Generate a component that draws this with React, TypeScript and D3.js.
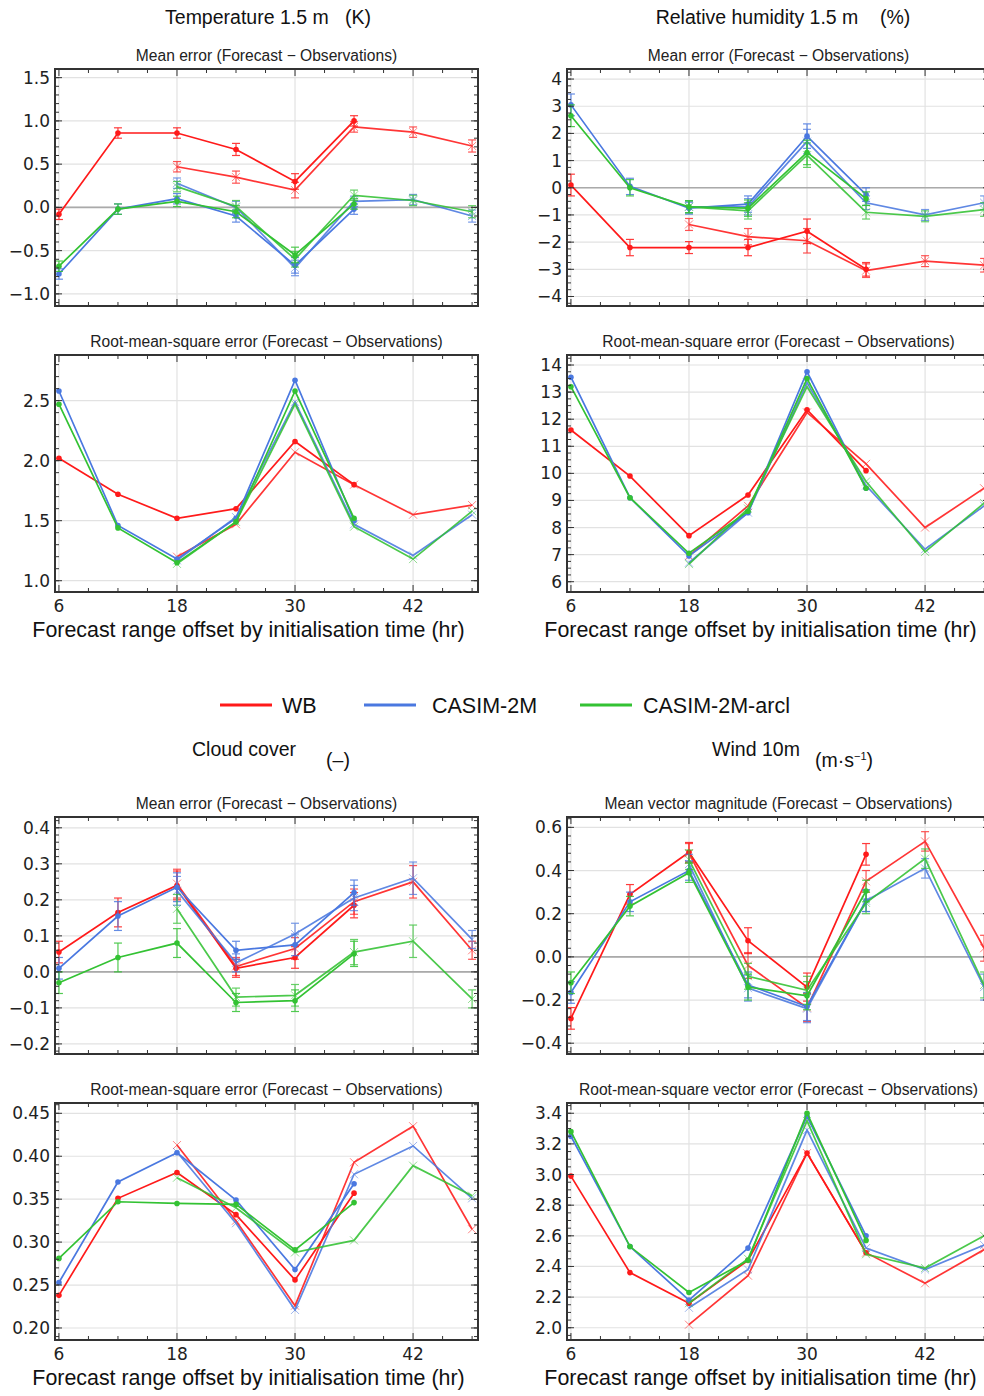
import React from 'react';
import * as d3 from 'd3';

// forecast hours: "dot" runs start at T+6, "cross" runs start at T+18
const hoursDot = [6, 12, 18, 24, 30, 36];
const hoursCross = [18, 24, 30, 36, 42, 48];
const models = ['WB', 'CASIM-2M', 'CASIM-2M-arcl'];
const modelColors = ['#ff1a1a', '#4a78e0', '#33c233'];

// Temperature mean error
const tempMeDot = [[-0.08, 0.86, 0.86, 0.67, 0.30, 1.0], [-0.77, -0.02, 0.10, -0.10, -0.67, -0.02], [-0.68, -0.02, 0.07, -0.05, -0.55, 0.04]];
const tempMeCross = [[0.47, 0.35, 0.20, 0.93, 0.87, 0.71], [0.28, 0.0, -0.70, 0.07, 0.09, -0.10], [0.24, 0.01, -0.60, 0.14, 0.08, -0.05]];
const tempMeErr = [0.06, 0.06, 0.06, 0.07, 0.09, 0.06, 0.06, 0.07];
const tempRmseDot = [[2.02, 1.72, 1.52, 1.60, 2.16, 1.80], [2.58, 1.46, 1.18, 1.52, 2.67, 1.50], [2.47, 1.44, 1.15, 1.49, 2.58, 1.52]];
const tempRmseCross = [[1.20, 1.47, 2.07, 1.80, 1.55, 1.63], [1.17, 1.53, 2.49, 1.47, 1.21, 1.55], [1.14, 1.49, 2.47, 1.45, 1.18, 1.58]];

// Relative humidity
const rhMeDot = [[0.1, -2.2, -2.2, -2.2, -1.6, -3.0], [3.05, 0.05, -0.75, -0.6, 1.9, -0.25], [2.65, 0.0, -0.7, -0.75, 1.3, -0.4]];
const rhMeCross = [[-1.35, -1.8, -1.95, -3.05, -2.7, -2.85], [-0.7, -0.7, 1.7, -0.55, -1.0, -0.55], [-0.7, -0.85, 1.2, -0.9, -1.05, -0.8]];
const rhMeErr = [0.4, 0.3, 0.22, 0.3, 0.45, 0.25, 0.2, 0.25];
const rhRmseDot = [[11.6, 9.9, 7.7, 9.2, 12.35, 10.1], [13.55, 9.1, 6.95, 8.55, 13.75, 9.45], [13.2, 9.1, 7.05, 8.6, 13.5, 9.45]];
const rhRmseCross = [[6.95, 8.8, 12.25, 10.35, 8.0, 9.45], [6.7, 8.55, 13.35, 9.55, 7.2, 8.8], [6.65, 8.7, 13.2, 9.7, 7.1, 8.9]];

// Cloud cover
const ccMeDot = [[0.055, 0.165, 0.24, 0.01, 0.04, 0.185], [0.01, 0.155, 0.235, 0.06, 0.075, 0.22], [-0.03, 0.04, 0.08, -0.085, -0.08, 0.05]];
const ccMeCross = [[0.245, 0.015, 0.065, 0.195, 0.25, 0.06], [0.225, 0.025, 0.105, 0.205, 0.26, 0.09], [0.175, -0.07, -0.065, 0.055, 0.085, -0.075]];
const ccMeErr = [0.03, 0.04, 0.04, 0.025, 0.03, 0.035, 0.045, 0.025];
const ccRmseDot = [[0.238, 0.351, 0.381, 0.332, 0.256, 0.357], [0.253, 0.370, 0.404, 0.349, 0.268, 0.368], [0.281, 0.347, 0.345, 0.344, 0.291, 0.346]];
const ccRmseCross = [[0.413, 0.325, 0.226, 0.393, 0.435, 0.315], [0.405, 0.322, 0.221, 0.379, 0.412, 0.351], [0.375, 0.340, 0.288, 0.302, 0.389, 0.354]];

// Wind 10m
const wMeDot = [[-0.285, 0.29, 0.485, 0.075, -0.14, 0.475], [-0.165, 0.255, 0.40, -0.13, -0.23, 0.26], [-0.12, 0.235, 0.39, -0.14, -0.18, 0.305]];
const wMeCross = [[0.48, -0.04, -0.235, 0.35, 0.535, 0.04], [0.43, -0.145, -0.24, 0.26, 0.41, -0.14], [0.45, -0.09, -0.155, 0.25, 0.455, -0.13]];
const wMeErr = [0.05, 0.045, 0.045, 0.06, 0.065, 0.05, 0.045, 0.06];
const wRmseDot = [[2.99, 2.36, 2.16, 2.44, 3.14, 2.49], [3.25, 2.53, 2.18, 2.52, 3.38, 2.60], [3.28, 2.53, 2.23, 2.44, 3.40, 2.57]];
const wRmseCross = [[2.02, 2.34, 3.14, 2.49, 2.29, 2.51], [2.13, 2.38, 3.29, 2.52, 2.38, 2.54], [2.16, 2.45, 3.35, 2.48, 2.39, 2.60]];

const xMajor = [6, 18, 30, 42];
const xMinor = d3.range(6, 49, 3);

const W = 423;
const H = 237;
const TICKFONT = 'DejaVu Sans, sans-serif';
const LABFONT = 'Liberation Sans, Arial, sans-serif';

interface PanelProps {
  x0: number; y0: number; title: string;
  domain: [number, number]; yTicks: number[]; yMinor: number[]; fmt: (v: number) => string;
  dot: number[][]; cross: number[][]; err?: number[]; zero?: boolean; xLabels?: boolean;
}

function Panel({ x0, y0, title, domain, yTicks, yMinor, fmt, dot, cross, err, zero, xLabels }: PanelProps) {
  const x = d3.scaleLinear().domain([5.6, 48.6]).range([0, W]);
  const y = d3.scaleLinear().domain(domain).range([H, 0]);
  const line = d3.line<[number, number]>().x(d => x(d[0])).y(d => y(d[1]));
  const series: { hrs: number[]; vals: number[]; m: number; cross: boolean }[] = [];
  models.forEach((_, m) => {
    series.push({ hrs: hoursDot, vals: dot[m], m, cross: false });
    series.push({ hrs: hoursCross, vals: cross[m], m, cross: true });
  });
  return (
    <g transform={`translate(${x0},${y0})`}>
      <text x={W / 2} y={-8} textAnchor="middle" fontSize={15.6} fontFamily={LABFONT} fill="#222">{title}</text>
      {xMajor.map(t => <line key={'gx' + t} x1={x(t)} x2={x(t)} y1={0} y2={H} stroke="#e2e2e2" strokeWidth={1.2} />)}
      {yTicks.map(t => <line key={'gy' + t} x1={0} x2={W} y1={y(t)} y2={y(t)} stroke="#e2e2e2" strokeWidth={1.2} />)}
      {zero && <line x1={0} x2={W} y1={y(0)} y2={y(0)} stroke="#aaaaaa" strokeWidth={1.6} />}
      {series.map((s, i) => {
        const pts = s.hrs.map((h, k) => [h, s.vals[k]] as [number, number]);
        const col = modelColors[s.m];
        return (
          <g key={i} opacity={s.cross ? 0.88 : 1}>
            <path d={line(pts) || ''} fill="none" stroke={col} strokeWidth={1.7} />
            {err && pts.map((p, k) => {
              const e = err[s.cross ? k + 2 : k];
              return (
                <g key={'e' + k} stroke={col} strokeWidth={1.2} opacity={0.85}>
                  <line x1={x(p[0])} x2={x(p[0])} y1={y(p[1] - e)} y2={y(p[1] + e)} />
                  <line x1={x(p[0]) - 4} x2={x(p[0]) + 4} y1={y(p[1] - e)} y2={y(p[1] - e)} />
                  <line x1={x(p[0]) - 4} x2={x(p[0]) + 4} y1={y(p[1] + e)} y2={y(p[1] + e)} />
                </g>
              );
            })}
            {pts.map((p, k) => s.cross
              ? <path key={'m' + k} d={`M${x(p[0]) - 4},${y(p[1]) - 4}L${x(p[0]) + 4},${y(p[1]) + 4}M${x(p[0]) - 4},${y(p[1]) + 4}L${x(p[0]) + 4},${y(p[1]) - 4}`} stroke={col} strokeWidth={1} opacity={0.6} />
              : <circle key={'m' + k} cx={x(p[0])} cy={y(p[1])} r={2.8} fill={col} />)}
          </g>
        );
      })}
      {xMinor.map(t => (
        <g key={'xt' + t} stroke="#333" strokeWidth={1}>
          <line x1={x(t)} x2={x(t)} y1={H} y2={H - (xMajor.includes(t) ? 7 : 4)} />
          <line x1={x(t)} x2={x(t)} y1={0} y2={xMajor.includes(t) ? 7 : 4} />
        </g>
      ))}
      {yMinor.filter(t => t >= domain[0] && t <= domain[1]).map(t => (
        <g key={'ym' + t} stroke="#333" strokeWidth={1}>
          <line x1={0} x2={4} y1={y(t)} y2={y(t)} />
          <line x1={W} x2={W - 4} y1={y(t)} y2={y(t)} />
        </g>
      ))}
      {yTicks.map(t => (
        <g key={'yt' + t}>
          <line x1={0} x2={7} y1={y(t)} y2={y(t)} stroke="#333" />
          <line x1={W} x2={W - 7} y1={y(t)} y2={y(t)} stroke="#333" />
          <text x={-5} y={y(t) + 6} textAnchor="end" fontSize={17} fontFamily={TICKFONT} fill="#222">{fmt(t)}</text>
        </g>
      ))}
      <rect x={0} y={0} width={W} height={H} fill="none" stroke="#333" strokeWidth={2} />
      {xLabels && xMajor.map(t => (
        <text key={'xl' + t} x={x(t)} y={H + 20} textAnchor="middle" fontSize={17} fontFamily={TICKFONT} fill="#222">{t}</text>
      ))}
      {xLabels && <text x={W / 2 - 18} y={H + 45} textAnchor="middle" fontSize={21.4} fontFamily={LABFONT} fill="#111">Forecast range offset by initialisation time (hr)</text>}
    </g>
  );
}

const f1 = (v: number) => d3.format('.1f')(v).replace('-', '\u2212');
const f2 = (v: number) => d3.format('.2f')(v).replace('-', '\u2212');
const f0 = (v: number) => d3.format('d')(v).replace('-', '\u2212');

export default function App() {
  const LX = 55, RX = 567;
  const rows = [69, 355, 817, 1103];
  return (
    <svg width={984} height={1396} style={{ position: 'absolute', left: 0, top: 0, background: '#fff' }}>
      <text x={268} y={24} textAnchor="middle" fontSize={19.5} fontFamily={LABFONT} fill="#111">Temperature 1.5 m{'\u00a0\u00a0\u00a0'}(K)</text>
      <text x={783} y={24} textAnchor="middle" fontSize={19.5} fontFamily={LABFONT} fill="#111">Relative humidity 1.5 m{'\u00a0\u00a0\u00a0\u00a0'}(%)</text>
      <text x={244} y={756} textAnchor="middle" fontSize={19.5} fontFamily={LABFONT} fill="#111">Cloud cover</text>
      <text x={338} y={767} textAnchor="middle" fontSize={19.5} fontFamily={LABFONT} fill="#111">(–)</text>
      <text x={756} y={756} textAnchor="middle" fontSize={19.5} fontFamily={LABFONT} fill="#111">Wind 10m</text>
      <text x={815} y={767} fontSize={19.5} fontFamily={LABFONT} fill="#111">(m·s<tspan dy={-7} fontSize={11}>−1</tspan><tspan dy={7}>)</tspan></text>

      <Panel x0={LX} y0={rows[0]} title="Mean error (Forecast − Observations)" domain={[-1.14, 1.6]}
        yTicks={[-1, -0.5, 0, 0.5, 1, 1.5]} yMinor={d3.range(-1.1, 1.61, 0.1)} fmt={f1}
        dot={tempMeDot} cross={tempMeCross} err={tempMeErr} zero />
      <Panel x0={LX} y0={rows[1]} title="Root-mean-square error (Forecast − Observations)" domain={[0.906, 2.88]}
        yTicks={[1, 1.5, 2, 2.5]} yMinor={d3.range(1, 2.9, 0.1)} fmt={f1}
        dot={tempRmseDot} cross={tempRmseCross} xLabels />
      <Panel x0={RX} y0={rows[0]} title="Mean error (Forecast − Observations)" domain={[-4.35, 4.37]}
        yTicks={[-4, -3, -2, -1, 0, 1, 2, 3, 4]} yMinor={d3.range(-4.25, 4.3, 0.25)} fmt={f0}
        dot={rhMeDot} cross={rhMeCross} err={rhMeErr} zero />
      <Panel x0={RX} y0={rows[1]} title="Root-mean-square error (Forecast − Observations)" domain={[5.62, 14.37]}
        yTicks={d3.range(6, 15, 1)} yMinor={d3.range(6, 14.4, 0.25)} fmt={f0}
        dot={rhRmseDot} cross={rhRmseCross} xLabels />
      <Panel x0={LX} y0={rows[2]} title="Mean error (Forecast − Observations)" domain={[-0.228, 0.43]}
        yTicks={[-0.2, -0.1, 0, 0.1, 0.2, 0.3, 0.4]} yMinor={d3.range(-0.22, 0.43, 0.02)} fmt={f1}
        dot={ccMeDot} cross={ccMeCross} err={ccMeErr} zero />
      <Panel x0={LX} y0={rows[3]} title="Root-mean-square error (Forecast − Observations)" domain={[0.186, 0.462]}
        yTicks={[0.2, 0.25, 0.3, 0.35, 0.4, 0.45]} yMinor={d3.range(0.19, 0.462, 0.01)} fmt={f2}
        dot={ccRmseDot} cross={ccRmseCross} xLabels />
      <Panel x0={RX} y0={rows[2]} title="Mean vector magnitude (Forecast − Observations)" domain={[-0.45, 0.648]}
        yTicks={[-0.4, -0.2, 0, 0.2, 0.4, 0.6]} yMinor={d3.range(-0.44, 0.65, 0.04)} fmt={f1}
        dot={wMeDot} cross={wMeCross} err={wMeErr} zero />
      <Panel x0={RX} y0={rows[3]} title="Root-mean-square vector error (Forecast − Observations)" domain={[1.92, 3.467]}
        yTicks={[2, 2.2, 2.4, 2.6, 2.8, 3, 3.2, 3.4]} yMinor={d3.range(1.95, 3.46, 0.05)} fmt={f1}
        dot={wRmseDot} cross={wRmseCross} xLabels />

      {models.map((m, i) => {
        const lx = [220, 364, 580][i];
        const tx = [282, 432, 643][i];
        return (
          <g key={m}>
            <line x1={lx} x2={lx + 52} y1={705} y2={705} stroke={modelColors[i]} strokeWidth={3} />
            <text x={tx} y={713} fontSize={21.5} fontFamily={LABFONT} fill="#111">{m}</text>
          </g>
        );
      })}
    </svg>
  );
}
